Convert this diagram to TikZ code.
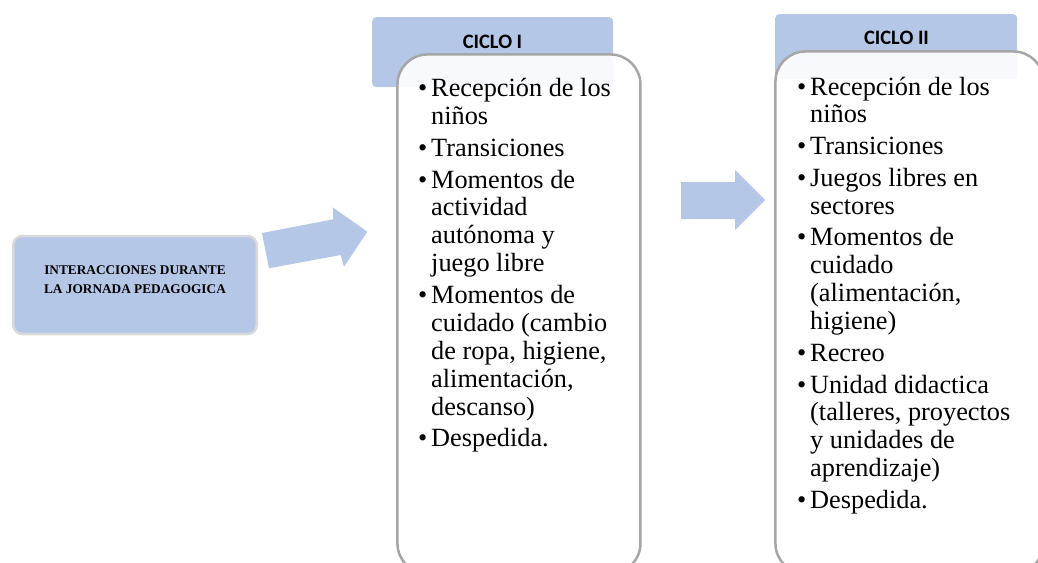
\documentclass[tikz,border=0pt]{standalone}
\usepackage{fontspec}
\setmainfont{Liberation Serif}
\newfontfamily\calibrifont{Carlito}

\definecolor{boxblue}{HTML}{B4C7E7}
\definecolor{boxgray}{HTML}{A6A6A6}
\definecolor{edgegray}{HTML}{D9D9D9}

\tikzset{
	startbox/.style  = {draw = edgegray, line width = 2.5pt, fill = boxblue,
	                    rounded corners = 9pt, inner sep = 0pt,
	                    minimum width = 243.5pt, minimum height = 98pt},
	starttext/.style = {font = \bfseries\fontsize{13.3}{19}\selectfont,
	                    align = center, inner sep = 0pt},
	headbox/.style   = {fill = boxblue, rounded corners = 4pt, inner sep = 0pt,
	                    anchor = north west},
	headtext/.style  = {font = \calibrifont\bfseries\fontsize{20.5}{24}\selectfont,
	                    inner sep = 0pt},
	listbox/.style   = {draw = boxgray, line width = 2.5pt, fill = white,
	                    fill opacity = 0.9, rounded corners = 30pt,
	                    inner sep = 0pt, anchor = north west},
	listtext/.style  = {font = \fontsize{26.3}{27.9}\selectfont,
	                    inner sep = 0pt, anchor = base west},
	blockarrow/.style = {fill = boxblue}
}

\newcommand{\bul}{\textbullet}

\begin{document}
\begin{tikzpicture}[x = 1pt, y = -1pt]
	\useasboundingbox (0, 0) rectangle (1038, 562);
	\clip (0, 0) rectangle (1038, 562);
	% starting box
	\node[startbox]  (start)     at (135, 285)   {};
	\node[starttext] (starttext) at (135, 279.5) {INTERACCIONES DURANTE\\LA JORNADA PEDAGOGICA};
	% arrows
	\fill[blockarrow] (262, 233) -- (333.3, 219.3) -- (332.7, 207.3) -- (367.3, 231.7)
	                  -- (344, 266.7) -- (340.7, 255) -- (269, 268.3) -- cycle;
	\fill[blockarrow] (681, 182) -- (735, 182) -- (735, 170) -- (765, 200)
	                  -- (735, 230) -- (735, 219) -- (681, 219) -- cycle;
	% ciclo I
	\node[headbox, minimum width = 241pt, minimum height = 70pt] (headone) at (372, 17) {};
	\node[headtext] (headonetext) at (492.5, 41.7) {CICLO I};
	\node[listbox, minimum width = 243pt, minimum height = 519pt] (boxone) at (396.2, 53.2) {};
	\node[listtext] (listone) at (417.8, 96.7) {%
		\begin{tabular}[t]{@{}l@{\hspace{4pt}}l@{}}
			\bul & Recepción de los\\
			     & niños\\[3.8pt]
			\bul & Transiciones\\[3.8pt]
			\bul & Momentos de\\
			     & actividad\\
			     & autónoma y\\
			     & juego libre\\[3.8pt]
			\bul & Momentos de\\
			     & cuidado (cambio\\
			     & de ropa, higiene,\\
			     & alimentación,\\
			     & descanso)\\[3.8pt]
			\bul & Despedida.
		\end{tabular}};
	% ciclo II
	\node[headbox, minimum width = 242pt, minimum height = 65pt] (headtwo) at (775, 14) {};
	\node[headtext] (headtwotext) at (896.5, 38.3) {CICLO II};
	\node[listbox, minimum width = 268pt, minimum height = 522pt] (boxtwo) at (774.2, 50.2) {};
	\node[listtext] (listtwo) at (796.8, 95) {%
		\begin{tabular}[t]{@{}l@{\hspace{4pt}}l@{}}
			\bul & Recepción de los\\
			     & niños\\[3.8pt]
			\bul & Transiciones\\[3.8pt]
			\bul & Juegos libres en\\
			     & sectores\\[3.8pt]
			\bul & Momentos de\\
			     & cuidado\\
			     & (alimentación,\\
			     & higiene)\\[3.8pt]
			\bul & Recreo\\[3.8pt]
			\bul & Unidad didactica\\
			     & (talleres, proyectos\\
			     & y unidades de\\
			     & aprendizaje)\\[3.8pt]
			\bul & Despedida.
		\end{tabular}};
\end{tikzpicture}
\end{document}
